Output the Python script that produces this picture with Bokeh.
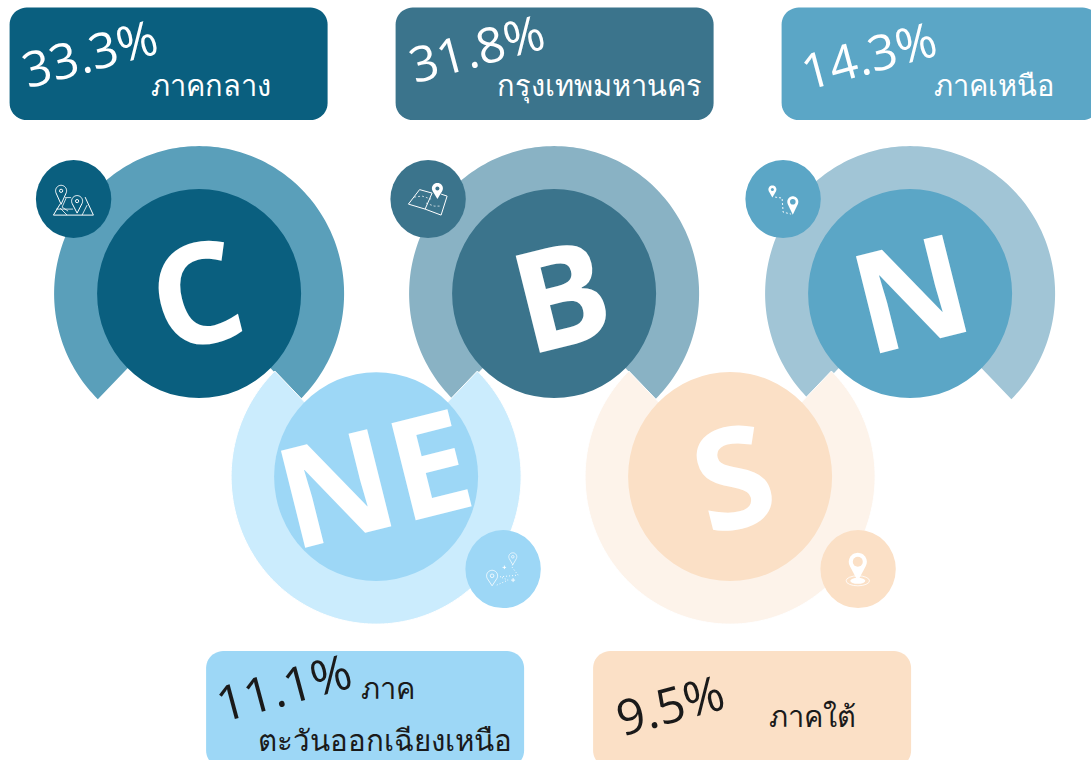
import math
from bokeh.plotting import figure
from bokeh.embed import file_html
from bokeh.resources import INLINE
from bokeh.core.properties import value

# ---- data ----
region_codes = ["C", "B", "N", "NE", "S"]
shares = ["33.3%", "31.8%", "14.3%", "11.1%", "9.5%"]
region_names = ["ภาคกลาง", "กรุงเทพมหานคร", "ภาคเหนือ", "ภาค", "ภาคใต้"]
extra_name = "ตะวันออกเฉียงเหนือ"

# ---- colours ----
main_colors = ["#0A5F7F", "#3B748C", "#5BA6C6", "#9DD7F6", "#FBE0C6"]
ring_colors = ["#5A9FBA", "#89B2C4", "#A1C5D6", "#CBECFD", "#FDF3EA"]
pct_colors = ["#FFFFFF", "#FFFFFF", "#FFFFFF", "#1A1A1A", "#1A1A1A"]

# ---- layout, in page pixels ----
W, H = 1091, 760
cx = [199, 554, 910, 376, 730]
cy = [293.5, 293.5, 293.5, 476.5, 476.5]
letter_dx = [-4, 6, 0, -3, 2]
letter_dy = [-3, -2, -4, -2, -3]
badge_x = [73.5, 428, 783, 503, 858]
badge_y = [199, 199, 199, 569, 569]
box_left = [9.5, 395.5, 781.5, 206, 593]
box_top = [7.5, 7.5, 7.5, 651, 651]
pct_x = [23, 410, 802, 217, 617]
pct_y = [70, 65, 72, 704, 718]
name_x = [151, 497, 934, 361, 769]
name_y = [84, 84, 84, 687, 715]
extra_x, extra_y = 258, 739
BOX_W, BOX_H, BOX_R = 318, 112.5, 17
RX, RY, CRX, CRY, BRX, BRY = 145, 147.5, 102, 104.5, 37.7, 39


def Y(py):
    return H - py


p = figure(width=W, height=H, x_range=(0.4, W + 0.4), y_range=(-0.4, H - 0.4),
           output_backend="svg", toolbar_location=None, min_border=0,
           background_fill_color="white", border_fill_color="white", outline_line_color=None)
p.axis.visible = False
p.grid.visible = False


def ring(i):
    top = i < 3
    a = math.degrees(math.atan2(CRY, CRX))
    if top:
        a0, a1 = -a, 180 + a
    else:
        a0, a1 = 180 - a, 360 + a
    xs, ys = [], []
    for k in range(181):
        t = math.radians(a0 + (a1 - a0) * k / 180)
        xs.append(cx[i] + RX * math.cos(t))
        ys.append(cy[i] - RY * math.sin(t))
    for k in range(180, -1, -1):
        t = math.radians(a0 + (a1 - a0) * k / 180)
        xs.append(cx[i] + 0.68 * RX * math.cos(t))
        ys.append(cy[i] - 0.68 * RY * math.sin(t))
    return xs, ys


def rounded(x0, y0, w, h, r):
    xs, ys = [], []
    corners = [(x0 + w - r, y0 + r, 90, 0), (x0 + w - r, y0 + h - r, 0, -90),
               (x0 + r, y0 + h - r, -90, -180), (x0 + r, y0 + r, 180, 90)]
    for ccx, ccy, a, b in corners:
        for k in range(13):
            t = math.radians(a + (b - a) * k / 12)
            xs.append(ccx + r * math.cos(t))
            ys.append(ccy - r * math.sin(t))
    return xs, ys


def patch(xs, ys, color, line=None, lw=1):
    p.patch(xs, [Y(v) for v in ys], fill_color=color, line_color=line, line_width=lw)


def line(xs, ys, color="white", lw=1.0, dash="solid"):
    p.line(xs, [Y(v) for v in ys], line_color=color, line_width=lw, line_dash=dash)


def pin(hx, hy, r, tip, color="white", fill=False, hole=None, bg=None, lw=1.0):
    a = math.degrees(math.asin(min(0.95, r / tip)))
    xs, ys = [], []
    for k in range(31):
        t = math.radians(-a + (180 + 2 * a) * k / 30)
        xs.append(hx + r * math.cos(t))
        ys.append(hy - r * math.sin(t))
    xs.append(hx)
    ys.append(hy + tip)
    xs.append(xs[0])
    ys.append(ys[0])
    if fill:
        patch(xs, ys, color)
    else:
        line(xs, ys, color, lw)
    if hole:
        if fill:
            p.ellipse([hx], [Y(hy)], width=2 * hole, height=2 * hole, fill_color=bg, line_color=None)
        else:
            p.ellipse([hx], [Y(hy)], width=2 * hole, height=2 * hole, fill_color=None, line_color=color, line_width=lw)


# rings of upper row, then lower row with a thin white edge
for i in [0, 1, 2]:
    xs, ys = ring(i)
    patch(xs, ys, ring_colors[i])
for i in [3, 4]:
    xs, ys = ring(i)
    patch(xs, ys, ring_colors[i], "white", 1)

# main circles
for i in range(5):
    p.ellipse([cx[i]], [Y(cy[i])], width=2 * CRX, height=2 * CRY, fill_color=main_colors[i], line_color=None)

# badges
for i in range(5):
    p.ellipse([badge_x[i]], [Y(badge_y[i])], width=2 * BRX, height=2 * BRY, fill_color=main_colors[i], line_color=None)

# letters
p.text([cx[i] + letter_dx[i] for i in range(5)], [Y(cy[i] + letter_dy[i]) for i in range(5)], text=region_codes,
       angle=14, angle_units="deg", text_align="center", text_baseline="middle",
       text_color="white", text_font=value("Open Sans"), text_font_style="bold", text_font_size="140px")

# boxes and texts
for i in range(5):
    xs, ys = rounded(box_left[i], box_top[i], BOX_W, BOX_H + (4 if i > 2 else 0), BOX_R)
    patch(xs, ys, main_colors[i])
    p.text([pct_x[i]], [Y(pct_y[i])], text=[shares[i]], angle=15, angle_units="deg",
           text_align="left", text_baseline="alphabetic", text_color=pct_colors[i],
           text_font=value("Open Sans"), text_font_size="49px")
    p.text([name_x[i]], [Y(name_y[i])], text=[region_names[i]], text_align="left",
           text_baseline="alphabetic", text_color=pct_colors[i],
           text_font=value("Noto Sans"), text_font_size="29px")
p.text([extra_x], [Y(extra_y)], text=[extra_name], text_align="left", text_baseline="alphabetic",
       text_color=pct_colors[3], text_font=value("Noto Sans"), text_font_size="29.5px")

# ---- icons ----
# C: two pins on a map
pin(61, 190.7, 5.5, 13.5, hole=1.6, lw=1)
pin(77, 201, 5.5, 12, hole=1.6, lw=1)
line([53.3, 93.3], [215, 215])
line([53.3, 60], [215, 204])
line([93.3, 85], [215, 197])
line([60, 67], [208, 215], lw=0.8)
line([66, 62, 68], [198, 207, 211], lw=0.8)
line([82, 87], [215, 205], lw=0.8)
line([65, 71], [197.5, 197.5], lw=0.8)
line([56, 73], [209, 209], lw=0.8)
# B: folded map with pin
line([408.3, 419.5, 432, 425, 408.3], [204, 189.5, 193, 209, 204])
line([425, 441, 447, 441], [209, 215, 196, 194])
line([414, 422, 431], [197, 196, 199], lw=0.7, dash="2 2")
line([426, 434, 441], [203, 206, 206], lw=0.7, dash="2 2")
pin(437.3, 188.3, 5.5, 10.5, fill=True, hole=2, bg=main_colors[1])
# N: two solid pins and dashed route
pin(772.3, 189.3, 4, 8, fill=True, hole=1.5, bg=main_colors[2])
pin(792.7, 201.7, 5.5, 13, fill=True, hole=2.8, bg=main_colors[2])
line([775, 782, 783, 791], [197, 198, 212, 214], lw=0.9, dash="2 2")
# NE: two outline pins and dotted route
pin(492, 575.7, 5.5, 10, hole=1.8, lw=0.8)
pin(512.7, 556.7, 4, 8, hole=1.3, lw=0.7)
line([496.7, 508, 500, 518, 511.7, 513], [585, 580, 576.7, 575, 566.7, 563], lw=0.9, dash="1 2")
line([502.5, 506], [567.3, 567.3], lw=0.9)
line([504.3, 504.3], [565.5, 569], lw=0.9)
line([511, 515], [580, 580], lw=0.9)
line([513, 513], [578, 582], lw=0.9)
# S: solid pin on rings
p.ellipse([857.7], [Y(580.7)], width=23.4, height=10, fill_color=None, line_color="white", line_width=0.8)
p.ellipse([857.7], [Y(580.7)], width=15, height=6, fill_color="white", line_color=None)
pin(857.7, 561.7, 9, 19.5, fill=True, hole=5, bg=main_colors[4])

doc = file_html(p, INLINE)
open("out.html", "w").write(doc)
